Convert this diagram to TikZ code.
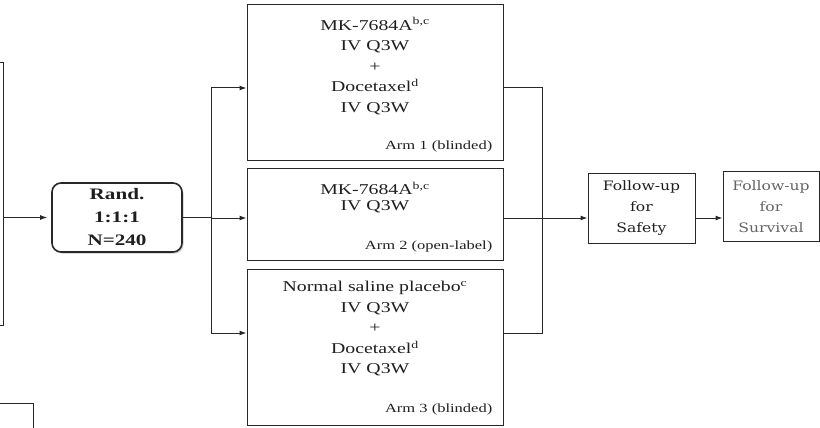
\documentclass[tikz,border=0pt]{standalone}
\usepackage{fontspec}
\setmainfont{Liberation Serif}[FakeStretch=1.32]
\newfontfamily\fupfont{DejaVu Serif}[FakeStretch=1.2]
\usepackage{tikz}
\usetikzlibrary{arrows.meta,positioning,shadows}
\definecolor{linegrey}{RGB}{40,40,40}
\definecolor{textgrey}{RGB}{100,100,100}

\begin{document}
\begin{tikzpicture}[x=1pt, y=-1pt, every node/.style={text=black!88},
  armbox/.style={draw=linegrey, line width=1pt, minimum width=256pt, inner sep=0pt},
  armtext/.style={align=center, inner sep=0pt, font=\fontsize{15}{20.5}\selectfont},
  armlabel/.style={inner sep=0pt, font=\fontsize{12.5}{13}\selectfont},
  fupbox/.style={draw=linegrey, line width=1pt, minimum height=70pt, align=center, inner sep=0pt, font=\fupfont\fontsize{13}{21}\selectfont},
  conn/.style={draw=linegrey, line width=1pt},
  arr/.style={conn, -{Latex[length=7pt, width=5pt]}}]
\useasboundingbox (0,0) rectangle (820,428);
\clip (0,0) rectangle (820,428);
% boxes cut by the picture edge
\node[draw=linegrey, line width=1pt, minimum width=63pt, minimum height=262pt] (screen) at (-28.5,194) {};
\node[draw=linegrey, line width=1pt, minimum width=93pt, minimum height=80pt] (extra) at (-13.5,443) {};
\node[draw=linegrey, fill=white, line width=1.6pt, rounded corners=9pt, minimum width=130pt, minimum height=69pt, inner sep=0pt, align=center, font=\bfseries\fontsize{16}{23}\selectfont, drop shadow={shadow xshift=1.5pt, shadow yshift=-1.5pt, opacity=0.4}] (rand) at (117,217.5) {Rand.\\1:1:1\\N=240};
% treatment arms
\node[armbox, minimum height=155pt] (arm1) at (375,82.5) {};
\node[armbox, minimum height=92pt] (arm2) at (375,214) {};
\node[armbox, minimum height=156pt] (arm3) at (375,347) {};
\node[armtext] (arm1txt) at (375,66) {MK-7684A\textsuperscript{b,c}\\IV Q3W\\+\\Docetaxel\textsuperscript{d}\\IV Q3W};
\node[armtext, font=\fontsize{15}{16}\selectfont] (arm2txt) at (375,197.5) {MK-7684A\textsuperscript{b,c}\\IV Q3W};
\node[armtext] (arm3txt) at (375,329) {Normal saline placebo\textsuperscript{c}\\IV Q3W\\+\\Docetaxel\textsuperscript{d}\\IV Q3W};
\node[armlabel, above left=8pt and 11pt of arm1.south east] (arm1lbl) {Arm 1 (blinded)};
\node[armlabel, above left=8pt and 11pt of arm2.south east] (arm2lbl) {Arm 2 (open-label)};
\node[armlabel, above left=10pt and 11pt of arm3.south east] (arm3lbl) {Arm 3 (blinded)};
% follow-up
\node[fupbox, minimum width=107pt] (safe) at (641.5,208) {Follow-up\\for\\Safety};
\node[fupbox, minimum width=96pt, text=textgrey] (surv) at (771,206.5) {Follow-up\\for\\Survival};
% connectors
\coordinate (split) at (211,218);
\coordinate (s1) at (211,88);
\coordinate (s3) at (211,333);
\coordinate (join) at (542,218);
\coordinate (j1) at (542,88);
\coordinate (j3) at (542,333);
\draw[arr, shorten >=4pt] (rand.west -| screen.east) -- (rand.west);
\draw[conn] (rand.east) -- (rand.east -| split);
\draw[conn] (s1) -- (s3);
\draw[arr] (s1) -- (s1 -| arm1.west);
\draw[arr] (split) -- (split -| arm2.west);
\draw[arr] (s3) -- (s3 -| arm3.west);
\draw[conn] (j1 -| arm1.east) -- (j1) -- (j3) -- (j3 -| arm3.east);
\draw[arr] (join -| arm2.east) -- (join -| safe.west);
\draw[arr] (join -| safe.east) -- (join -| surv.west);
\end{tikzpicture}
\end{document}
